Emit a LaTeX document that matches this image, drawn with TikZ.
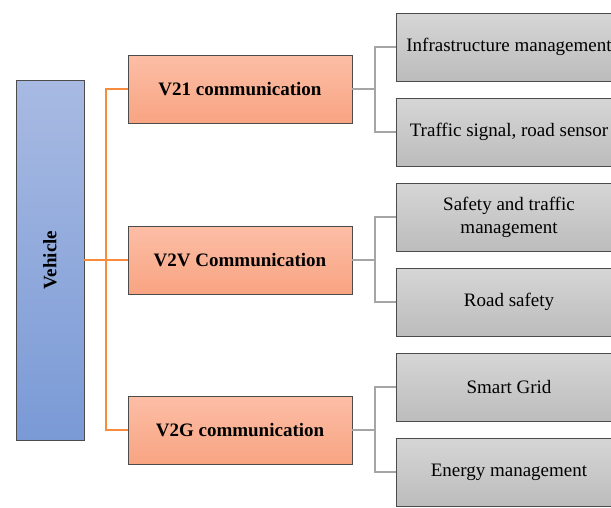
\documentclass[tikz,border=0pt]{standalone}
\usepackage{fontspec}
\setmainfont{Liberation Serif}
\newfontfamily\boxfont{Liberation Serif}
\definecolor{vehtop}{RGB}{168,186,226}
\definecolor{vehbot}{RGB}{122,154,214}
\definecolor{orgtop}{RGB}{252,190,166}
\definecolor{orgbot}{RGB}{248,164,130}
\definecolor{grytop}{RGB}{214,214,214}
\definecolor{grybot}{RGB}{188,188,188}
\definecolor{orgline}{RGB}{247,140,60}
\definecolor{gryline}{RGB}{165,165,165}

\begin{document}
\begin{tikzpicture}[x=1pt,y=-1pt,
  every node/.style={font=\boxfont\fontsize{19}{23}\selectfont},
  vehbox/.style={draw=gray!60!black, line width=0.8pt, top color=vehtop, bottom color=vehbot,
    minimum width=68pt, minimum height=360pt, inner sep=0pt},
  midbox/.style={draw=gray!60!black, line width=0.8pt, top color=orgtop, bottom color=orgbot,
    minimum width=224pt, minimum height=68pt, inner sep=0pt, font=\boxfont\fontsize{19}{23}\selectfont\bfseries},
  leafbox/.style={draw=gray!60!black, line width=0.8pt, top color=grytop, bottom color=grybot,
    minimum width=226pt, minimum height=68pt, inner sep=0pt, align=center},
  orgcon/.style={draw=orgline, line width=2pt},
  grycon/.style={draw=gryline, line width=2pt}]

\useasboundingbox (0,0) rectangle (611,507);
\clip (0,0) rectangle (611,507);

\node[vehbox, label={[rotate=90, font=\boxfont\fontsize{19}{23}\selectfont\bfseries]center:Vehicle}] (veh) at (50,260) {};

\foreach \i/\y/\t in {1/89/V21 communication, 2/260/V2V Communication, 3/430/V2G communication}
  \node[midbox] (m\i) at (240,\y) {\t};

\foreach \i/\y/\t in {1/47/{Infrastructure management}, 2/132/{Traffic signal, road sensor},
    3/217/{Safety and traffic\\management}, 4/302/{Road safety},
    5/387/{Smart Grid}, 6/472/{Energy management}}
  \node[leafbox] (r\i) at (509,\y) {\t};

\draw[orgcon] (veh.east) -- (m2.west);
\draw[orgcon] (m1.west) -- ++(-22,0) |- (m3.west);

\foreach \i/\a/\b in {1/1/2, 2/3/4, 3/5/6}
{\draw[grycon] (m\i.east) -- ++(23,0);
\draw[grycon] (r\a.west) -- ++(-21,0) |- (r\b.west);}

\end{tikzpicture}
\end{document}
